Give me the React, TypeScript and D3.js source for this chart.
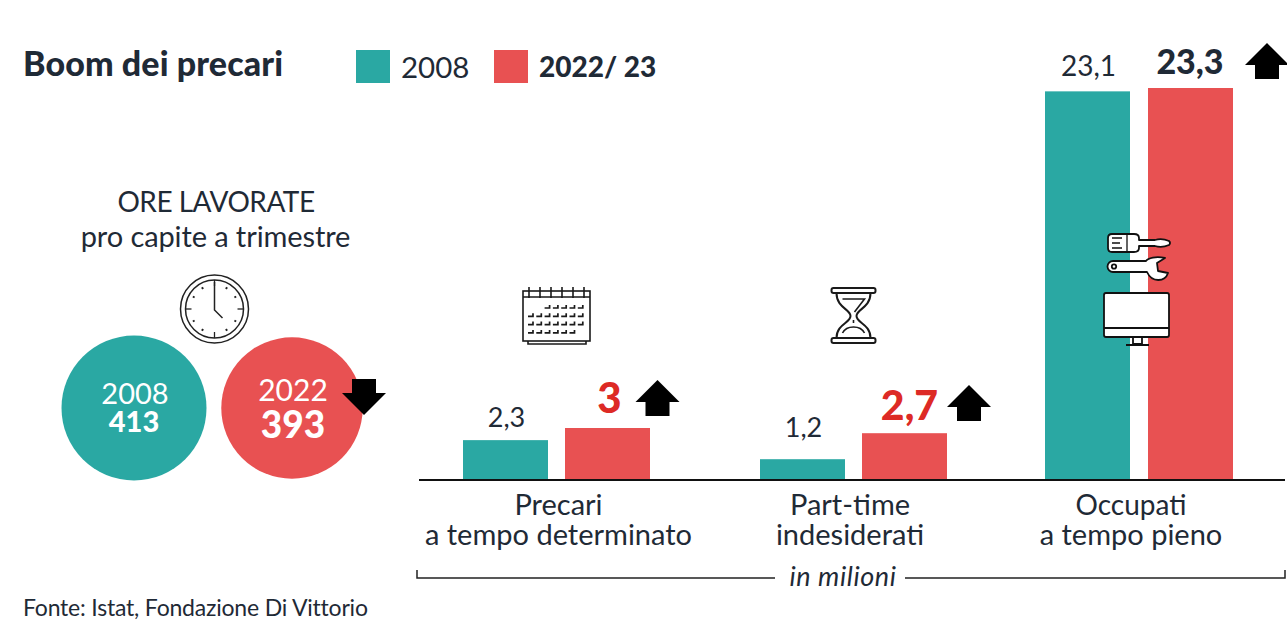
import React from "react";
import * as d3 from "d3";

const categories = ["Precari", "Part-time", "Occupati"];
const categorySub = ["a tempo determinato", "indesiderati", "a tempo pieno"];
const values2008 = [2.3, 1.2, 23.1];
const values2022 = [3, 2.7, 23.3];
const labels2008 = ["2,3", "1,2", "23,1"];
const labels2022 = ["3", "2,7", "23,3"];
const hours = [{ year: "2008", value: 413 }, { year: "2022", value: 393 }];

const TEAL = "#2aa8a3";
const RED = "#e85152";
const INK = "#1f2a36";
const FONT = "Lato, 'Open Sans', sans-serif";

const groupX = d3.scaleOrdinal<string, number>().domain(categories).range([463, 760, 1045]);
const redX = d3.scaleOrdinal<string, number>().domain(categories).range([565, 862, 1148]);
const barW = d3.scaleOrdinal<string, number>().domain(categories).range([85, 85, 85]);
const baseY = 480;
const h = d3.scaleLinear().domain([0, 3, 23.3]).range([0, 52, 392]);
const radius = d3.scaleSqrt().domain([0, 413]).range([0, 72.5]);
const circleX = d3.scaleOrdinal<string, number>().domain(["2008", "2022"]).range([134, 292]);

const label08Offset = [13, 22, 15];
const label22Offset = [15, 13, 14];
const label22Dx = [2, 5, -0.5];
const labelCx = [558.5, 850, 1131];

function UpArrow({ x, y }: { x: number; y: number }) {
  return <path transform={`translate(${x},${y})`} d="M0,-18 L22,4 L12,4 L12,18 L-12,18 L-12,4 L-22,4 Z" fill="#000" />;
}

function Clock() {
  const ticks = d3.range(12);
  return (
    <g transform="translate(214.5,309)" fill="none" stroke="#222">
      <circle r={34} strokeWidth={1.5} />
      <circle r={29} strokeWidth={1.5} />
      {ticks.map((i) => {
        const a = (i * Math.PI) / 6;
        const major = i % 3 === 0;
        const r0 = major ? 23 : 23;
        const r1 = major ? 29 : 25;
        return <line key={i} x1={Math.sin(a) * r0} y1={-Math.cos(a) * r0} x2={Math.sin(a) * r1} y2={-Math.cos(a) * r1} strokeWidth={major ? 1.3 : 2} />;
      })}
      <path d="M0,-27 V1 L8,9" strokeWidth={1.5} />
    </g>
  );
}

function Calendar() {
  const cols = d3.range(7);
  const rows = d3.range(4);
  return (
    <g transform="translate(523,287)" stroke="#1a1a1a" fill="none" strokeWidth={1.6}>
      <rect x={0} y={4} width={67} height={50} fill="#fff" />
      <path d="M5,54 V57 H63 V54" />
      <path d="M0,10 H67" />
      {d3.range(6).map((i) => <line key={i} x1={6 + i * 11} x2={6 + i * 11} y1={0} y2={11} />)}
      {rows.map((r) => cols.map((c) => {
        if ((r === 0 && c < 2) || (r === 3 && c > 5)) return null;
        const x = 5 + c * 8.3;
        const y = 18 + r * 8.3;
        return <path key={`${r}-${c}`} d={`M${x + 5},${y} V${y + 3} H${x}`} strokeWidth={1.7} />;
      }))}
    </g>
  );
}

function Hourglass() {
  return (
    <g transform="translate(853.5,316)" stroke="#1a1a1a" fill="none" strokeWidth={2}>
      <rect x={-22} y={-28} width={44} height={5} rx={2} />
      <rect x={-22} y={22} width={44} height={5} rx={2} />
      <path d="M-17,-23 C-17,-8 -3,-7 -3,0 C-3,7 -17,8 -17,22 M17,-23 C17,-8 3,-7 3,0 C3,7 17,8 17,22" />
      <path d="M-11,-17 H11 L1,-4 M-11,17 C-7,9 7,9 11,17 M0,4 V7" strokeWidth={1.6} />
    </g>
  );
}

function Tools() {
  return (
    <g stroke="#111" strokeWidth={1.8} fill="#fff" strokeLinejoin="round">
      <path d="M1112,234 H1134 Q1139,234 1139,238 V240 H1155 Q1162,238 1169,241 Q1171,243 1169,245 Q1162,248 1155,246 H1139 V248 Q1139,252 1134,252 H1112 Q1108,252 1108,248 V238 Q1108,234 1112,234 Z" />
      <path d="M1112,238 H1122 M1112,243 H1120 M1112,248 H1122 M1127,235 V251" fill="none" strokeWidth={1.3} />
      <path d="M1113,261 H1146 C1148,258 1156,256 1165,258 L1157,263 L1158,271 L1168,273 C1165,282 1152,283 1147,272 H1113 A5.5,5.5 0 0 1 1113,261 Z" />
      <circle cx={1114} cy={266.5} r={2.2} />
      <rect x={1104} y={293} width={65} height={44} rx={2} />
      <path d="M1104,328 H1169 M1133,337 V344 H1142 V337 M1126,345 H1149" fill="none" />
    </g>
  );
}

export default function App() {
  return (
    <svg width={1287} height={621} viewBox="0 0 1287 621" style={{ position: "absolute", left: 0, top: 0, background: "#fff", fontFamily: FONT }}>
      <text x={23} y={76} fontSize={34} fontWeight={900} fill={INK} letterSpacing={0.1}>Boom dei precari</text>
      <rect x={356} y={50} width={34} height={33} fill={TEAL} />
      <text x={401} y={78} fontSize={29.5} fill={INK}>2008</text>
      <rect x={494} y={50} width={34} height={33} fill={RED} />
      <text x={539} y={77} fontSize={28} fontWeight={900} fill={INK}>2022/ 23</text>

      <text x={216} y={212} textAnchor="middle" fontSize={28} fill={INK} letterSpacing={-0.5}>ORE LAVORATE</text>
      <text x={215.5} y={247} textAnchor="middle" fontSize={29} fill={INK} letterSpacing={-0.1}>pro capite a trimestre</text>
      <Clock />

      {hours.map((d, i) => (
        <g key={d.year}>
          <circle cx={circleX(d.year)} cy={408} r={radius(d.value)} fill={i === 0 ? TEAL : RED} />
          <text x={circleX(d.year) + 1} y={i === 0 ? 404 : 401} textAnchor="middle" fontSize={i === 0 ? 29 : 30} fill="#fff">{d.year}</text>
          <text x={circleX(d.year) + (i === 0 ? 0 : 1)} y={i === 0 ? 432 : 438} textAnchor="middle" fontSize={i === 0 ? 29 : 37} fontWeight={900} fill="#fff">{d.value}</text>
        </g>
      ))}
      <g transform="translate(364,397) rotate(180)"><UpArrow x={0} y={0} /></g>

      {categories.map((c, i) => {
        const tall = i === 2;
        const h1 = h(values2008[i]);
        const h2 = h(values2022[i]);
        return (
          <g key={c}>
            <rect x={groupX(c)} y={baseY - h1} width={barW(c)} height={h1} fill={TEAL} />
            <rect x={redX(c)} y={baseY - h2} width={barW(c)} height={h2} fill={RED} />
            <text x={groupX(c) + barW(c) / 2 + 1} y={baseY - h1 - label08Offset[i]} textAnchor="middle" fontSize={tall ? 28 : 27} fill={INK}>{labels2008[i]}</text>
            <text x={redX(c) + barW(c) / 2 + label22Dx[i]} y={baseY - h2 - label22Offset[i]} textAnchor="middle"
              fontSize={tall ? 34 : i === 0 ? 42 : 41} fontWeight={900} fill={tall ? INK : "#dd2a25"}>{labels2022[i]}</text>
            <text x={labelCx[i]} y={515} textAnchor="middle" fontSize={tall ? 28 : 29} fill={INK}>{c}</text>
            <text x={labelCx[i]} y={545} textAnchor="middle" fontSize={29} fill={INK}>{categorySub[i]}</text>
          </g>
        );
      })}
      <UpArrow x={657.5} y={398} />
      <UpArrow x={969} y={403} />
      <UpArrow x={1267} y={61} />

      <line x1={419} x2={1285} y1={480} y2={480} stroke="#111" strokeWidth={2} />

      <Calendar />
      <Hourglass />
      <Tools />

      <path d="M417,570 V578 H775 M905,578 H1285 V570" fill="none" stroke="#222" strokeWidth={1.5} />
      <text x={843} y={586} textAnchor="middle" fontSize={27} fontStyle="italic" fill={INK} letterSpacing={0.6}>in milioni</text>
      <text x={23} y={616} fontSize={23} fill={INK} letterSpacing={-0.2}>Fonte: Istat, Fondazione Di Vittorio</text>
    </svg>
  );
}
